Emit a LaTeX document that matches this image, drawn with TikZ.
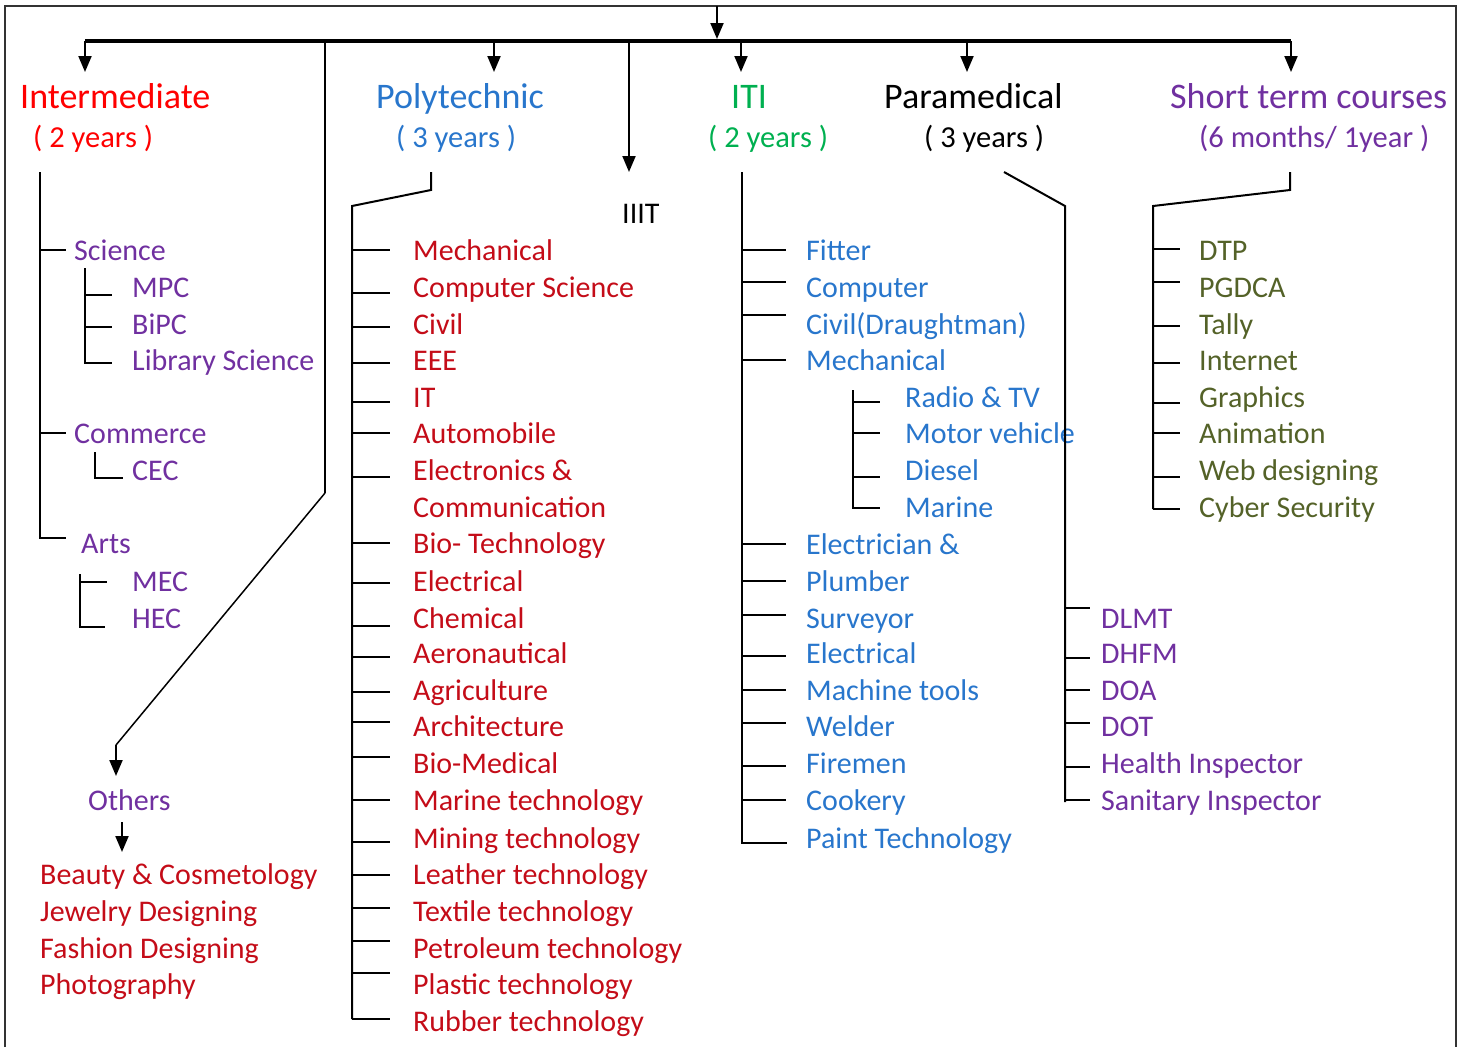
\documentclass[tikz,border=0pt]{standalone}
\usepackage{fontspec}
\setmainfont{Carlito}
\usetikzlibrary{arrows.meta}
\definecolor{intred}{RGB}{255,0,0}
\definecolor{itemred}{RGB}{196,12,24}
\definecolor{polyblue}{RGB}{40,118,204}
\definecolor{itigreen}{RGB}{0,176,80}
\definecolor{stpurple}{RGB}{112,48,160}
\definecolor{stolive}{RGB}{84,98,40}
\tikzset{
  title/.style={anchor=base west,inner sep=0pt,font=\fontsize{36}{37}\selectfont},
  sub/.style={anchor=base west,inner sep=0pt,font=\fontsize{30.5}{31}\selectfont},
  item/.style={anchor=base west,inner sep=0pt,font=\fontsize{30}{31}\selectfont},
  branch/.style={line width=2pt},
  bus/.style={line width=4pt},
  arr/.style={line width=2pt,-{Triangle[length=16pt,width=13pt]}},
}

\begin{document}
\begin{tikzpicture}[x=1pt,y=-1pt]
    \useasboundingbox (0,0) rectangle (1464,1047);
    % frame
    \draw[line width=1.5pt,black!80] (5,1047) -- (5,6) -- (1456,6) -- (1456,1047);

    % headings
    \node[title,intred] (inter) at (20,108) {Intermediate};
    \node[sub,intred] (interyr) at (33,147) {( 2 years )};
    \node[title,polyblue] (poly) at (376,108) {Polytechnic};
    \node[sub,polyblue] (polyyr) at (396,147) {( 3 years )};
    \node[title,itigreen] (iti) at (731,108) {ITI};
    \node[sub,itigreen] (itiyr) at (708,147) {( 2 years )};
    \node[title] (para) at (884,108) {Paramedical};
    \node[sub] (parayr) at (924,147) {( 3 years )};
    \node[title,stpurple] (short) at (1170,108) {Short term courses};
    \node[sub,stpurple] (shortyr) at (1199,147) {(6 months/ 1year )};
    \node[item] (iiit) at (622,223) {IIIT};

    % main bus
    \coordinate (top) at (717,6);
    \coordinate (busl) at (85,41);
    \coordinate (busr) at (1291,41);
    \draw[bus] (busl) -- (busr);
    \draw[arr] (top) -- (717,39);
    \foreach \x in {85,494,741,967,1291}
        \draw[arr] (\x,41) -- (\x,72);
    \draw[arr] (629,41) -- (629,172);

    % others
    \coordinate (bend) at (116,745);
    \draw[branch] (325,41) -- (325,493);
    \draw[line width=1.5pt] (325,493) -- (bend);
    \draw[arr] (bend) -- ++(0,31);
    \node[item,stpurple] (others) at (88,810) {Others};
    \draw[arr] (122,822) -- (122,852);
    \foreach \y/\t [count=\i] in {874/Beauty \& Cosmetology,911/Jewelry Designing,948/Fashion Designing,984/Photography}
        \node[item,itemred] (oth\i) at (40,\y+10) {\t};

    % intermediate
    \draw[branch] (40,172) -- (40,538) -- (66,538);
    \draw[branch] (40,250) -- (66,250);
    \draw[branch] (40,433) -- (66,433);
    \node[item,stpurple] (sci) at (74,260) {Science};
    \node[item,stpurple] (comm) at (74,443) {Commerce};
    \node[item,stpurple] (arts) at (81,553) {Arts};
    \draw[branch] (85,268) -- (85,363) -- (112,363);
    \draw[branch] (85,295) -- (112,295);
    \draw[branch] (85,327) -- (112,327);
    \node[item,stpurple] (mpc) at (132,297) {MPC};
    \node[item,stpurple] (bipc) at (132,334) {BiPC};
    \node[item,stpurple] (libsci) at (132,370) {Library Science};
    \draw[branch] (95,452) -- (95,478) -- (123,478);
    \node[item,stpurple] (cec) at (132,480) {CEC};
    \draw[branch] (80,574) -- (80,627) -- (105,627);
    \draw[branch] (80,582) -- (107,582);
    \node[item,stpurple] (mec) at (132,591) {MEC};
    \node[item,stpurple] (hec) at (132,628) {HEC};

    % polytechnic
    \draw[branch] (431,172) -- (431,190) -- (352,206) -- (352,1019);
    \foreach \ty/\y/\t [count=\i] in {250/250/Mechanical,293/287/Computer Science,327/324/Civil,363/360/EEE,
        402/397/IT,433/433/Automobile,477/470/Electronics \&,543/543/Bio- Technology,583/581/Electrical,
        626/618/Chemical,657/653/Aeronautical,692/690/Agriculture,722/726/Architecture,757/763/Bio-Medical,
        800/800/Marine technology,842/838/Mining technology,875/874/Leather technology,908/911/Textile technology,
        941/948/Petroleum technology,973/984/Plastic technology,1019/1021/Rubber technology} {
        \draw[branch] (352,\ty) -- (390,\ty);
        \node[item,itemred] (poly\i) at (413,\y+10) {\t};
    }
    \node[item,itemred] (polycomm) at (413,517) {Communication};

    % iti
    \draw[branch] (742,172) -- (742,843) -- (787,843);
    \foreach \ty/\y/\t [count=\i] in {250/250/Fitter,282/287/Computer,315/324/Civil(Draughtman),360/360/Mechanical,
        544/544/Electrician \&,581/581/Plumber,615/618/Surveyor,656/653/Electrical,690/690/Machine tools,
        723/726/Welder,766/763/Firemen,800/800/Cookery} {
        \draw[branch] (742,\ty) -- (786,\ty);
        \node[item,polyblue] (iti\i) at (806,\y+10) {\t};
    }
    \node[item,polyblue] (itipaint) at (806,848) {Paint Technology};
    \draw[branch] (853,390) -- (853,508) -- (880,508);
    \foreach \ty/\y/\t [count=\i] in {402/397/Radio \& TV,433/433/Motor vehicle,477/470/Diesel,508/507/Marine} {
        \draw[branch] (853,\ty) -- (880,\ty);
        \node[item,polyblue] (mech\i) at (905,\y+10) {\t};
    }

    % paramedical
    \draw[branch] (1004,172) -- (1065,206) -- (1065,802);
    \foreach \ty/\y/\t [count=\i] in {608/618/DLMT,658/653/DHFM,690/690/DOA,723/726/DOT,
        767/763/Health Inspector,800/800/Sanitary Inspector} {
        \draw[branch] (1065,\ty) -- (1090,\ty);
        \node[item,stpurple] (para\i) at (1101,\y+10) {\t};
    }

    % short term
    \draw[branch] (1290,172) -- (1290,190) -- (1153,206) -- (1153,509);
    \foreach \ty/\y/\t [count=\i] in {249/250/DTP,282/287/PGDCA,326/324/Tally,363/360/Internet,
        403/397/Graphics,433/433/Animation,477/470/Web designing,509/507/Cyber Security} {
        \draw[branch] (1153,\ty) -- (1180,\ty);
        \node[item,stolive] (st\i) at (1199,\y+10) {\t};
    }
\end{tikzpicture}
\end{document}
